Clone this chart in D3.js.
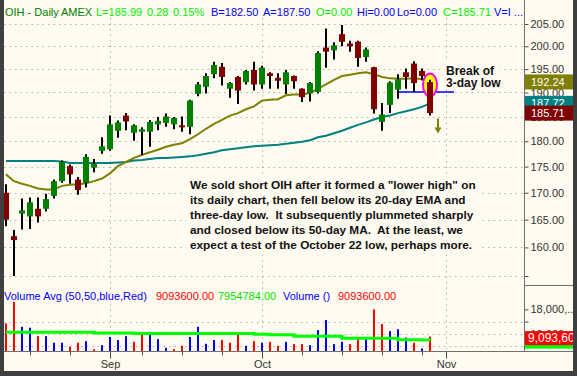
<!DOCTYPE html>
<html>
<head>
<meta charset="utf-8">
<script src="https://cdnjs.cloudflare.com/ajax/libs/d3/7.8.5/d3.min.js"></script>
<style>
  html, body { margin: 0; padding: 0; background: #fffbf0; }
  svg { display: block; font-family: "Liberation Sans", Arial, sans-serif; }
</style>
</head>
<body>
<div id="chart"></div>
<script>
// OIH daily, Aug 15 - Oct 30 2007
const dates = [
  "2007-08-15","2007-08-16","2007-08-17","2007-08-20","2007-08-21","2007-08-22","2007-08-23","2007-08-24",
  "2007-08-27","2007-08-28","2007-08-29","2007-08-30","2007-08-31",
  "2007-09-04","2007-09-05","2007-09-06","2007-09-07","2007-09-10","2007-09-11","2007-09-12","2007-09-13",
  "2007-09-14","2007-09-17","2007-09-18","2007-09-19","2007-09-20","2007-09-21","2007-09-24","2007-09-25",
  "2007-09-26","2007-09-27","2007-09-28",
  "2007-10-01","2007-10-02","2007-10-03","2007-10-04","2007-10-05","2007-10-08","2007-10-09","2007-10-10",
  "2007-10-11","2007-10-12","2007-10-15","2007-10-16","2007-10-17","2007-10-18","2007-10-19","2007-10-22",
  "2007-10-23","2007-10-24","2007-10-25","2007-10-26","2007-10-29","2007-10-30"
];
const futureDates = ["2007-10-31", "2007-11-01", "2007-11-02"];

const open = [
  170.0, 162.0, 166.1, 165.6, 167.0, 167.0, 169.4, 172.2, 175.1, 172.5,
  171.9, 174.8, 178.1, 178.4, 182.1, 185.2, 181.7, 181.9, 181.9, 183.4,
  183.7, 183.4, 183.2, 182.9, 189.7, 191.2, 193.9, 195.5, 190.8, 193.3,
  192.2, 194.8, 191.7, 194.1, 193.1, 191.7, 193.5, 190.8, 189.8, 190.1,
  199.7, 199.1, 202.7, 200.6, 201.0, 197.6, 195.4, 183.9, 187.4, 190.6,
  194.3, 196.2, 194.6, 192.2
];
const high = [
  171.6, 163.1, 168.9, 169.1, 169.1, 169.8, 172.5, 176.2, 175.4, 173.0,
  177.4, 176.5, 180.8, 185.2, 184.2, 185.7, 183.4, 182.8, 184.3, 184.9,
  185.6, 184.9, 185.0, 188.5, 192.2, 194.1, 196.6, 196.3, 192.2, 193.5,
  194.8, 196.6, 195.7, 194.3, 194.1, 194.8, 193.6, 190.9, 192.2, 198.9,
  204.0, 200.9, 204.8, 201.2, 201.2, 199.7, 195.5, 187.8, 192.4, 193.9,
  195.1, 196.7, 195.1, 192.7
];
const low = [
  163.8, 155.0, 163.2, 163.3, 164.5, 166.5, 168.9, 171.9, 171.7, 169.6,
  171.0, 173.9, 177.5, 178.1, 180.7, 182.2, 180.1, 177.2, 178.9, 182.2,
  182.9, 182.4, 181.9, 181.4, 189.2, 189.8, 193.0, 191.5, 188.9, 187.6,
  191.7, 190.4, 190.8, 190.8, 190.8, 189.7, 190.8, 188.0, 188.1, 189.8,
  195.3, 197.1, 200.0, 198.8, 195.5, 196.6, 185.6, 182.1, 185.7, 188.7,
  190.8, 190.1, 192.6, 185.2
];
const close = [
  165.0, 161.3, 166.7, 168.2, 165.6, 168.8, 172.2, 175.9, 173.5, 170.5,
  176.9, 175.5, 179.0, 183.4, 183.8, 184.0, 183.2, 182.4, 183.9, 184.1,
  185.0, 184.7, 182.8, 188.3, 191.7, 193.5, 195.9, 193.3, 192.0, 190.4,
  194.6, 191.7, 195.3, 193.5, 192.5, 194.3, 192.4, 189.0, 192.0, 198.5,
  198.8, 200.2, 201.0, 200.0, 197.4, 199.3, 186.5, 185.4, 192.1, 192.8,
  193.3, 192.0, 193.5, 185.71
];
const ema20 = [
  173.5, 172.2, 171.7, 171.3, 170.8, 170.6, 170.6, 171.3, 171.5, 171.6,
  171.8, 172.2, 172.7, 173.7, 175.1, 175.9, 176.7, 177.3, 177.8, 178.3,
  178.9, 179.3, 179.6, 180.4, 181.4, 182.5, 183.5, 184.3, 185.2, 185.7,
  186.5, 187.1, 188.3, 188.5, 188.6, 189.4, 189.6, 189.6, 189.9, 190.8,
  191.7, 192.7, 193.5, 193.8, 194.1, 194.3, 193.9, 193.3, 193.0, 192.9,
  192.9, 193.0, 192.8, 192.24
];
const ma50 = [
  176.1, 176.1, 176.1, 176.1, 176.1, 176.1, 176.1, 176.0, 175.7, 175.7,
  175.7, 175.7, 175.7, 175.7, 175.8, 175.9, 176.2, 176.3, 176.5, 176.7,
  176.7, 176.8, 176.9, 177.0, 177.2, 177.5, 177.8, 178.2, 178.4, 178.6,
  178.8, 179.0, 179.1, 179.2, 179.3, 179.5, 179.7, 179.9, 180.2, 180.8,
  181.1, 181.6, 182.1, 182.7, 183.3, 183.8, 184.4, 184.9, 185.2, 185.7,
  186.1, 186.5, 187.0, 187.72
];
const volume = [
  13400000, 20400000, 12300000, 12000000, 9250000, 9250000, 7100000, 7100000, 5800000, 7100000,
  7600000, 5000000, 6300000, 9000000, 8000000, 9250000, 7400000, 10100000, 10650000, 8300000,
  5450000, 5000000, 6100000, 9000000, 12300000, 6750000, 8000000, 8000000, 7100000, 10100000,
  6100000, 7600000, 7100000, 7400000, 6100000, 7400000, 6650000, 6650000, 6300000, 11200000,
  14500000, 6650000, 7400000, 6650000, 8300000, 8300000, 18000000, 13200000, 10900000, 11500000,
  8800000, 7100000, 5250000, 9093600
];
const volAvg = [
  10500000, 10500000, 10500000, 10500000, 10500000, 10500000, 10500000, 10500000, 10500000, 10500000,
  10500000, 10300000, 10300000, 10300000, 10300000, 10300000, 10100000, 10100000, 10100000, 10100000,
  10100000, 10100000, 10100000, 10100000, 10100000, 10100000, 10100000, 10100000, 10100000, 10100000,
  10100000, 9900000, 9900000, 9700000, 9700000, 9700000, 9250000, 9250000, 9250000, 9250000,
  9250000, 9250000, 8600000, 8600000, 8600000, 8600000, 8600000, 8600000, 8600000, 8100000,
  8100000, 8050000, 8000000, 7954784
];

const priceTicks = [155, 160, 165, 170, 175, 180, 185, 190, 195, 200, 205];
const volTicks = [6000000, 10000000, 14000000, 18000000];
const volLabelTicks = [10000000, 18000000];

const header = [
  ["OIH - Daily", "#008000"], ["AMEX", "#008000"], ["L=185.99", "#00ee00"], ["0.28", "#00ee00"],
  ["0.15%", "#00ee00"], ["B=182.50", "#0000ff"], ["A=187.50", "#0000ff"], ["O=0.00", "#00ee00"],
  ["Hi=0.00", "#0000ff"], ["Lo=0.00", "#0000ff"], ["C=185.71", "#00ee00"], ["V=I ...", "#0000ff"]
];
const volHeader = [
  ["Volume Avg (50,50,blue,Red)", "#0000ff"], ["9093600.00", "#ff0000"], ["7954784.00", "#00e000"],
  ["Volume ()", "#0000ff"], ["9093600.00", "#ff0000"]
];
const note = [
  "We sold short OIH after it formed a \"lower high\" on",
  "its daily chart, then fell below its 20-day EMA and",
  "three-day low.  It subsequently plummeted sharply",
  "and closed below its 50-day MA.  At the least, we",
  "expect a test of the October 22 low, perhaps more."
];
const breakNote = ["Break of", "3-day low"];

// layout
const W = 577, H = 376;
const plotL = 4, axisX = 524.5;
const headerX = [5, 61, 96, 147, 173, 211, 263, 316, 357, 397, 443, 494];
const volHeaderX = [4, 156, 218, 283, 338];
const bg = "#fffbf0", grid = "#b0b0b0";

const svg = d3.select("#chart").append("svg")
    .attr("width", W).attr("height", H);

svg.append("rect").attr("width", W).attr("height", H).attr("fill", bg);

const parse = d3.timeParse("%Y-%m-%d");
const allDates = dates.concat(futureDates).map(parse);
const n = dates.length;

const x = d3.scaleLinear().domain([0, 64]).range([6, 518]);
const y = d3.scaleLog().domain([155, 205]).range([276, 24]);
const yv = d3.scaleLinear().domain([4400000, 20400000]).range([351, 302]);

const bars = dates.map((d, i) => ({
  i, o: open[i], h: high[i], l: low[i], c: close[i], v: volume[i],
  volUp: i ? close[i] >= close[i - 1] : close[i] >= open[i]
}));

const weekTicks = d3.range(1, allDates.length).filter(i =>
  +d3.timeMonday.floor(allDates[i]) !== +d3.timeMonday.floor(allDates[i - 1]));
const monthTicks = d3.range(1, allDates.length).filter(i =>
  allDates[i].getMonth() !== allDates[i - 1].getMonth());

// grid lines
const g = svg.append("g");
g.selectAll(".hgrid").data(priceTicks).join("line")
    .attr("x1", plotL).attr("x2", axisX)
    .attr("y1", d => Math.round(y(d)) + 0.5).attr("y2", d => Math.round(y(d)) + 0.5)
    .attr("stroke", grid).attr("stroke-dasharray", "1.5,4");
g.selectAll(".vgrid").data(volTicks.slice(0, 3)).join("line")
    .attr("x1", plotL).attr("x2", axisX)
    .attr("y1", d => Math.round(yv(d)) + 0.5).attr("y2", d => Math.round(yv(d)) + 0.5)
    .attr("stroke", grid).attr("stroke-dasharray", "1.5,4");
g.selectAll(".mgrid").data(monthTicks).join("line")
    .attr("x1", d => Math.round(x(d)) + 0.5).attr("x2", d => Math.round(x(d)) + 0.5)
    .attr("y1", 18).attr("y2", 351)
    .attr("stroke", grid).attr("stroke-dasharray", "1.5,4");

// text box for the note (hides grid behind it)
const noteG = svg.append("g");
noteG.append("rect").attr("x", 186).attr("y", 177).attr("width", 293).attr("height", 75).attr("fill", bg);
noteG.append("rect").attr("x", 444).attr("y", 62).attr("width", 56).attr("height", 27).attr("fill", bg);

// moving averages
const line = d3.line().x((d, i) => x(i)).y(d => y(d));
svg.append("path").attr("d", line(ma50))
    .attr("fill", "none").attr("stroke", "#008080").attr("stroke-width", 2);
svg.append("path").attr("d", line(ema20))
    .attr("fill", "none").attr("stroke", "#808000").attr("stroke-width", 2);

// 3-day low line
const threeDayLow = d3.min(low.slice(n - 4, n - 1));
svg.append("line")
    .attr("x1", x(n - 5)).attr("x2", x(n + 2))
    .attr("y1", y(threeDayLow)).attr("y2", y(threeDayLow))
    .attr("stroke", "#0000ff").attr("stroke-width", 1.5);

// highlight ellipse
svg.append("ellipse")
    .attr("cx", x(n - 1)).attr("cy", y(ema20[n - 1]) + 3)
    .attr("rx", 7).attr("ry", 11.5)
    .attr("fill", "#ffff00").attr("stroke", "#ff00ff").attr("stroke-width", 2);

// candles
const candle = svg.append("g").selectAll("g").data(bars).join("g");
candle.append("line")
    .attr("x1", d => x(d.i)).attr("x2", d => x(d.i))
    .attr("y1", d => y(d.h)).attr("y2", d => y(d.l))
    .attr("stroke", "#000").attr("stroke-width", 2);
candle.append("rect")
    .attr("x", d => x(d.i) - 3).attr("width", 6)
    .attr("y", d => y(Math.max(d.o, d.c)))
    .attr("height", d => Math.max(1.5, Math.abs(y(d.o) - y(d.c))))
    .attr("fill", d => d.c >= d.o ? "#008000" : "#800000");

// olive arrow below the last bar
const ax = x(n), ay = y(low[n - 1]) + 3;
svg.append("line").attr("x1", ax).attr("x2", ax).attr("y1", ay).attr("y2", ay + 10)
    .attr("stroke", "#808000").attr("stroke-width", 2);
svg.append("path").attr("d", `M${ax - 3.5},${ay + 9}L${ax + 3.5},${ay + 9}L${ax},${ay + 15}Z`)
    .attr("fill", "#808000");

// note texts
noteG.raise();
noteG.append("text").attr("font-size", 11.8).attr("font-weight", "bold").attr("fill", "#111")
    .style("white-space", "pre")
  .selectAll("tspan").data(note).join("tspan")
    .attr("x", 190).attr("y", (d, i) => 188.5 + i * 15).text(d => d);
noteG.append("text").attr("font-size", 12).attr("font-weight", "bold").attr("fill", "#111")
  .selectAll("tspan").data(breakNote).join("tspan")
    .attr("x", 446).attr("y", (d, i) => 74.5 + i * 12.5).text(d => d);

// volume bars
svg.append("g").selectAll("rect").data(bars).join("rect")
    .attr("x", d => x(d.i) - 1).attr("width", 2)
    .attr("y", d => yv(d.v)).attr("height", d => 351 - yv(d.v))
    .attr("fill", d => d.volUp ? "#0000ff" : "#ff0000");
svg.append("path").attr("d", d3.line().x((d, i) => x(i)).y(d => yv(d)).curve(d3.curveStepAfter)(volAvg))
    .attr("fill", "none").attr("stroke", "#00ff00").attr("stroke-width", 3);

// header texts
svg.append("g").selectAll("text").data(header).join("text")
    .attr("x", (d, i) => headerX[i]).attr("y", 15.5)
    .attr("font-size", 11).attr("fill", d => d[1]).text(d => d[0]);
svg.append("g").selectAll("text").data(volHeader).join("text")
    .attr("x", (d, i) => volHeaderX[i]).attr("y", 299.5)
    .attr("font-size", 11).attr("fill", d => d[1]).text(d => d[0]);

// right axis column
const axisG = svg.append("g");
axisG.append("rect").attr("x", axisX).attr("y", 0).attr("width", W - axisX).attr("height", H).attr("fill", bg);
axisG.append("line").attr("x1", axisX).attr("x2", axisX).attr("y1", 0).attr("y2", 351.5)
    .attr("stroke", "#707070");
axisG.append("line").attr("x1", axisX).attr("x2", 573).attr("y1", 285.5).attr("y2", 285.5)
    .attr("stroke", "#707070");

const priceAxis = axisG.append("g").attr("transform", `translate(${axisX},0)`)
    .call(d3.axisRight(y).tickValues(priceTicks).tickSize(4).tickPadding(2)
      .tickFormat(d => d >= 160 ? d3.format(".2f")(d) : ""));
const volAxis = axisG.append("g").attr("transform", `translate(${axisX},0)`)
    .call(d3.axisRight(yv).tickValues(volTicks).tickSize(4).tickPadding(2)
      .tickFormat(d => volLabelTicks.includes(d) ? d3.format(",")(d).slice(0, 7) + "..." : ""));
[priceAxis, volAxis].forEach(a => {
  a.select(".domain").remove();
  a.attr("font-size", 11).attr("font-family", null);
  a.selectAll("line").attr("stroke", "#505050");
  a.selectAll("text").attr("fill", "#333");
});

// value boxes on the price axis
const boxes = [
  [ema20[n - 1], "#808000"],
  [ma50[n - 1], "#008080"],
  [close[n - 1], "#800000"]
];
const boxG = axisG.append("g").selectAll("g").data(boxes).join("g")
    .attr("transform", d => `translate(${axisX + 0.5},${y(d[0])})`);
boxG.append("rect").attr("x", 0).attr("y", -7.5).attr("width", 48).attr("height", 15).attr("fill", d => d[1]);
boxG.append("text").attr("x", 6).attr("dy", "0.35em").attr("font-size", 11).attr("fill", "#fff")
    .text(d => d3.format(".2f")(d[0]));

// value boxes on the volume axis
const vboxes = [
  [volAvg[n - 1], "#00ff00", ""],
  [volume[n - 1], "#ff0000", d3.format(",")(volume[n - 1])]
];
const vboxG = axisG.append("g").selectAll("g").data(vboxes).join("g")
    .attr("transform", d => `translate(${axisX + 0.5},${yv(d[0]) + 1.5})`);
vboxG.append("rect").attr("x", 0).attr("y", -7).attr("width", 48).attr("height", 14).attr("fill", d => d[1]);
vboxG.append("text").attr("x", 3).attr("dy", "0.35em").attr("font-size", 12).attr("fill", "#fff")
    .text(d => d[2]);

// bottom time axis
svg.append("line").attr("x1", plotL).attr("x2", 573).attr("y1", 351.5).attr("y2", 351.5)
    .attr("stroke", "#707070");
svg.append("g").attr("transform", "translate(0,351.5)")
    .call(d3.axisBottom(x).tickValues(weekTicks).tickSize(4).tickFormat(""))
    .call(a => a.select(".domain").remove())
    .selectAll("line").attr("stroke", "#505050");
svg.append("g").attr("transform", "translate(0,351.5)")
    .call(d3.axisBottom(x).tickValues(monthTicks).tickSize(7).tickPadding(2)
      .tickFormat(i => d3.timeFormat("%b")(allDates[i])))
    .call(a => a.select(".domain").remove())
    .call(a => a.attr("font-size", 11).attr("font-family", null))
    .call(a => a.selectAll("line").attr("stroke", "#505050"))
    .call(a => a.selectAll("text").attr("fill", "#333"));

// dark frame
svg.append("rect").attr("x", 0).attr("y", 0).attr("width", 4).attr("height", H).attr("fill", "#3f3f3f");
svg.append("rect").attr("x", 573).attr("y", 0).attr("width", 4).attr("height", H).attr("fill", "#3f3f3f");
svg.append("rect").attr("x", 0).attr("y", 371).attr("width", W).attr("height", 5).attr("fill", "#3f3f3f");
</script>
</body>
</html>
